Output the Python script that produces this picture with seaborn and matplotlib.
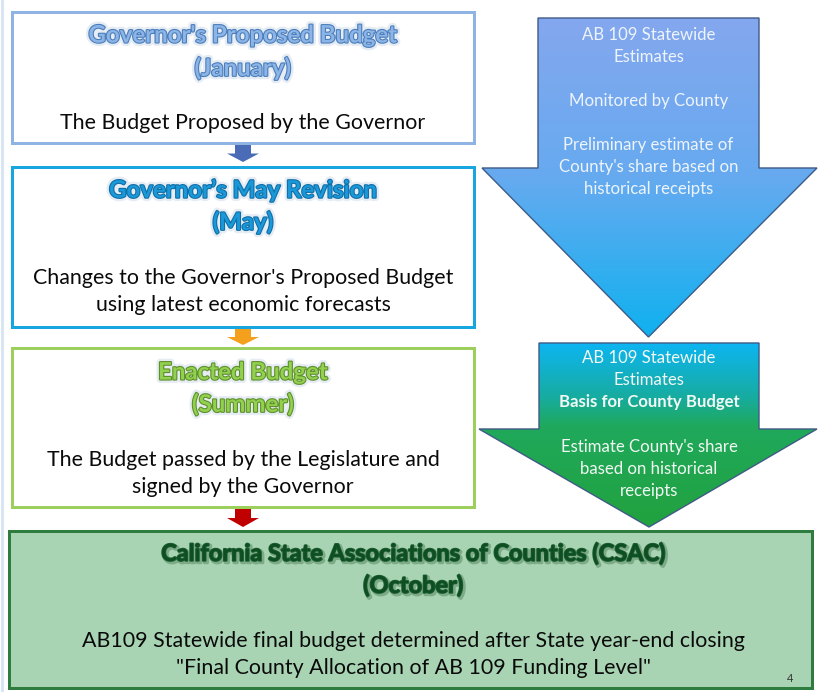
import numpy as np
import matplotlib
matplotlib.use("Agg")
import matplotlib.pyplot as plt
import seaborn as sns
from matplotlib.patches import Polygon, Rectangle
from matplotlib.colors import LinearSegmentedColormap
import matplotlib.patheffects as pe

# ---------------- content ----------------
stage_titles = [
    ["Governor's Proposed Budget", "(January)"],
    ["Governor\u2019s May Revision", "(May)"],
    ["Enacted Budget", "(Summer)"],
]
stage_bodies = [
    ["The Budget Proposed by the Governor"],
    ["Changes to the Governor's Proposed Budget", "using latest economic forecasts"],
    ["The Budget passed by the Legislature and", "signed by the Governor"],
]
final_title = ["California State Associations of Counties (CSAC)", "(October)"]
final_body = ["AB109 Statewide final budget determined after State year-end closing",
              "\"Final County Allocation of AB 109 Funding Level\""]
arrow1_lines = ["AB 109 Statewide", "Estimates", "", "Monitored by County", "",
                "Preliminary estimate of", "County's share based on", "historical receipts"]
arrow2_lines = ["AB 109 Statewide", "Estimates", "Basis for County Budget", "",
                "Estimate County's share", "based on historical", "receipts"]
arrow2_bold = [False, False, True, False, False, False, False]
page_number = "4"

# ---------------- styling / layout ----------------
sns.set_theme(style="white")
plt.rcParams['font.family'] = ['Lato', 'DejaVu Sans']

W, H = 819, 692
fig = plt.figure(figsize=(W / 100, H / 100), dpi=100)
ax = fig.add_axes([0, 0, 1, 1])
ax.set_xlim(0, W)
ax.set_ylim(H, 0)
ax.axis('off')

PX = 0.72  # points per pixel

box_specs = [  # x0, y0, x1, y1, border, title colour, title outline
    (12, 12, 474, 143, '#8fb4e3', '#8db4e6', '#4a7ebb'),
    (12, 167, 474, 327, '#17a6e0', '#1b98d8', '#0f6fa8'),
    (12, 348, 474, 507, '#9ccf5c', '#92d050', '#5f8f2a'),
]
title_y = [(35, 68), (190, 222), (372, 404)]
body_y = [(123,), (278, 305), (460, 487)]

for i, (x0, y0, x1, y1, bc, tc, oc) in enumerate(box_specs):
    ax.add_patch(Rectangle((x0, y0), x1 - x0, y1 - y0, facecolor='white',
                           edgecolor=bc, lw=3 * PX, zorder=2))
    cx = (x0 + x1) / 2
    for txt, yy in zip(stage_titles[i], title_y[i]):
        ax.text(cx, yy, txt, ha='center', va='center', fontsize=24 * PX,
                fontweight='bold', color=tc, zorder=5,
                path_effects=[pe.withStroke(linewidth=5, foreground='#e6ecf4'),
                              pe.withStroke(linewidth=1.6, foreground=oc)])
    for txt, yy in zip(stage_bodies[i], body_y[i]):
        ax.text(cx, yy, txt, ha='center', va='center', fontsize=21.4 * PX,
                color='#0a0a0a', zorder=5)

# small connector arrows
small_arrows = [(243, 145, 162, '#4a6cb6'), (243, 329, 345, '#f5a01c'),
                (243, 509, 527, '#c00000')]
for cx, ya, yb, col in small_arrows:
    ys = ya + (yb - ya) * 0.5
    verts = [(cx - 8, ya), (cx + 8, ya), (cx + 8, ys), (cx + 16, ys), (cx, yb),
             (cx - 16, ys), (cx - 8, ys)]
    ax.add_patch(Polygon(verts, closed=True, facecolor=col, edgecolor='none', zorder=3))

# final box
ax.add_patch(Rectangle((9, 531), 803, 157, facecolor='#a8d4b3', edgecolor='#2f7d3e',
                       lw=3 * PX, zorder=2))
for txt, yy in zip(final_title, (554, 586)):
    ax.text(413, yy, txt, ha='center', va='center', fontsize=23.5 * PX, fontweight='bold',
            color='#0d4f22', zorder=5,
            path_effects=[pe.SimpleLineShadow(offset=(1.2, -1.2), shadow_color='#4a7a55',
                                              alpha=0.45, linewidth=2.5),
                          pe.withStroke(linewidth=1.2, foreground='#1e5e30')])
for txt, yy in zip(final_body, (641, 668)):
    ax.text(413, yy, txt, ha='center', va='center', fontsize=21.4 * PX,
            color='#0a0a0a', zorder=5)
ax.text(790, 678, page_number, ha='center', va='center', fontsize=11 * PX,
        color='#333333', zorder=5)


def big_arrow(top, shoulder, tip, sl, sr, hl, hr, stops):
    cx = (sl + sr) / 2
    verts = [(sl, top), (sr, top), (sr, shoulder), (hr, shoulder), (cx, tip),
             (hl, shoulder), (sl, shoulder)]
    poly = Polygon(verts, closed=True, facecolor='none', edgecolor='#3e5b86',
                   lw=1.0, zorder=4)
    ax.add_patch(poly)
    cmap = LinearSegmentedColormap.from_list('g', stops)
    grad = np.linspace(0, 1, 256).reshape(-1, 1)
    im = ax.imshow(grad, cmap=cmap, origin='lower', extent=(hl, hr, top, tip),
                   aspect='auto', zorder=3, interpolation='bilinear')
    im.set_clip_path(poly)
    return cx


c1 = big_arrow(18, 168, 337, 538, 759, 482, 817,
               [(0, '#84a7ee'), (0.5, '#66aaf0'), (1, '#0fb1ef')])
c2 = big_arrow(343, 429, 527, 539, 759, 479, 817,
               [(0, '#0db5f2'), (0.3, '#17ac9e'), (0.45, '#1fa95c'), (1, '#22a23e')])
ax.set_xlim(0, W)
ax.set_ylim(H, 0)

for k, txt in enumerate(arrow1_lines):
    if txt:
        ax.text(c1, 35 + k * 22, txt, ha='center', va='center', fontsize=16.8 * PX,
                color='#eef4fc', zorder=6)
for k, txt in enumerate(arrow2_lines):
    if txt:
        ax.text(c2, 358 + k * 22.2, txt, ha='center', va='center', fontsize=16.8 * PX,
                color='#f2f8f4', fontweight='bold' if arrow2_bold[k] else 'normal',
                zorder=6)

# faint left page edge
ax.plot([1.5, 1.5], [0, H], color='#d5e4f3', lw=2, zorder=1)

fig.savefig('out.png', dpi=100)
